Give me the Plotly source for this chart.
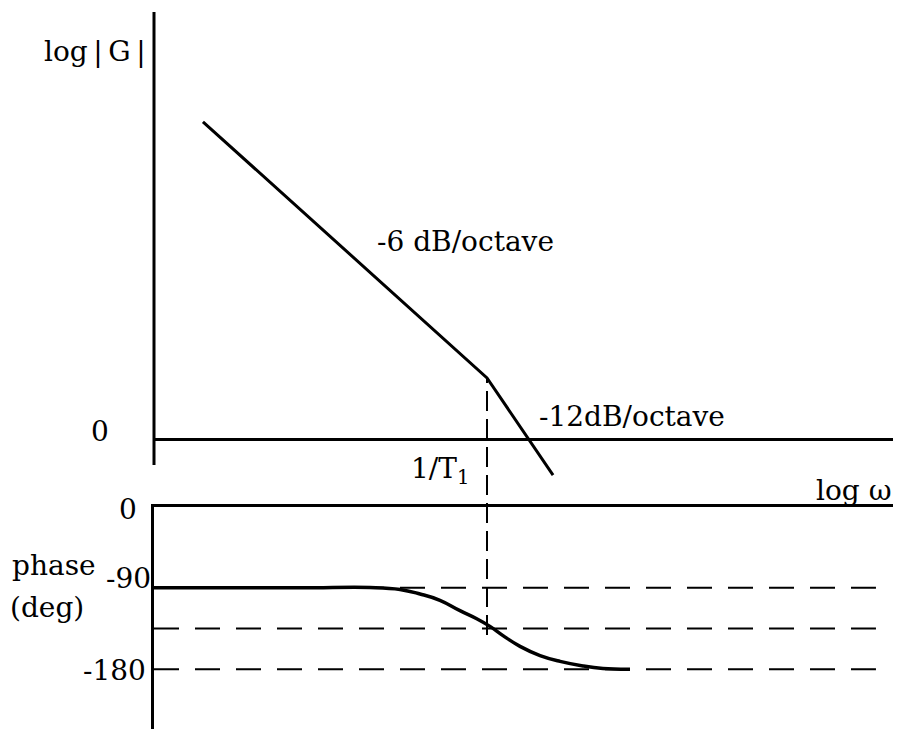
import plotly.graph_objects as go

# ---- data -----------------------------------------------------------------
# asymptotic magnitude (dB) against log10(omega*T1); corner frequency at 0
mag_log_w = [-2.185, 0.0, 0.508]
mag_db = [54.3, 10.6, -6.0]

# phase of the lag term (deg) against log10(omega*T1)
phase_log_w = [-2.562, -1.438, -0.9, -0.669, -0.515, -0.362, -0.208, -0.079,
               0.023, 0.123, 0.254, 0.408, 0.562, 0.738, 0.892, 1.1]
phase_deg = [-90, -90, -89.6, -91.7, -96.8, -103.7, -115.2, -124.1, -132.6,
             -142.8, -154.7, -164.9, -171.3, -176.4, -179.2, -180]

phase_guides = [-90, -135, -180]
phase_tick_vals = [0, -90, -180]
phase_tick_text = ["0", "-90", "-180"]
corner_log_w = 0.0

# ---- figure geometry --------------------------------------------------------
W, H = 899, 729
X_DOMAIN = [154 / W, 893 / W]
X_RANGE = [-2.5615, 3.1231]
GUIDE_END = 2.992

MAG_DOMAIN = [1 - 480 / H, 1 - 12 / H]
MAG_RANGE = [-6.83, 73.04]
MAG_AXIS_BOTTOM = -4.27

PH_DOMAIN = [0.0, 1 - 506.5 / H]
PH_RANGE = [-246.1, 0.0]

FONT = "DejaVu Serif"
FS = 28
INK = "black"


def mag_to_paper(v):
    f = (v - MAG_RANGE[0]) / (MAG_RANGE[1] - MAG_RANGE[0])
    return MAG_DOMAIN[0] + f * (MAG_DOMAIN[1] - MAG_DOMAIN[0])


def ph_to_paper(v):
    f = (v - PH_RANGE[0]) / (PH_RANGE[1] - PH_RANGE[0])
    return PH_DOMAIN[0] + f * (PH_DOMAIN[1] - PH_DOMAIN[0])


fig = go.Figure()

# phase guide lines
for g in phase_guides:
    fig.add_trace(go.Scatter(
        x=[X_RANGE[0], GUIDE_END], y=[g, g], xaxis="x2", yaxis="y2",
        mode="lines", line=dict(color=INK, width=2, dash="25px,16px"),
        hoverinfo="skip", showlegend=False))

# magnitude asymptote
fig.add_trace(go.Scatter(
    x=mag_log_w, y=mag_db, mode="lines",
    line=dict(color=INK, width=3), showlegend=False))

# phase curve
fig.add_trace(go.Scatter(
    x=phase_log_w, y=phase_deg, xaxis="x2", yaxis="y2", mode="lines",
    line=dict(color=INK, width=3.5, shape="spline", smoothing=1.2),
    showlegend=False))

shapes = [
    # vertical magnitude axis
    dict(type="line", xref="paper", yref="paper",
         x0=X_DOMAIN[0], x1=X_DOMAIN[0],
         y0=mag_to_paper(MAG_AXIS_BOTTOM), y1=MAG_DOMAIN[1],
         line=dict(color=INK, width=3)),
    # corner-frequency marker through both panels
    dict(type="line", xref="x", yref="paper",
         x0=corner_log_w, x1=corner_log_w,
         y0=ph_to_paper(-142), y1=mag_to_paper(mag_db[1]),
         line=dict(color=INK, width=2, dash="20px,8px")),
]


def ann(text, x, y, xref="paper", yref="paper", xanchor="center",
        yanchor="middle", yshift=0):
    return dict(text=text, x=x, y=y, xref=xref, yref=yref, showarrow=False,
                xanchor=xanchor, yanchor=yanchor, yshift=yshift,
                font=dict(family=FONT, size=FS, color=INK))


annotations = [
    ann("log\u2009|\u2009G\u2009|", 95 / W, 1 - 52 / H),
    ann("-6 dB/octave", -0.169, 1 - 242 / H, xref="x"),
    ann("-12dB/octave", 1.115, 1 - 417 / H, xref="x"),
    ann("0", 100 / W, 0, yref="y", yshift=8),
    ann("1/T<sub>1</sub>", -0.36, 1 - 470 / H, xref="x"),
    ann("log ω", 893 / W, 1 - 490 / H, xanchor="right"),
    ann("phase", 54 / W, 1 - 565 / H),
    ann("(deg)", 47 / W, 1 - 607 / H),
]
for v, t, xr, ys in zip(phase_tick_vals, phase_tick_text,
                        [139, 153, 148], [-3, 9, -1]):
    annotations.append(ann(t, xr / W, v, yref="y2", xanchor="right",
                           yshift=ys))

fig.update_layout(
    width=W, height=H,
    margin=dict(l=0, r=0, t=0, b=0),
    paper_bgcolor="white", plot_bgcolor="white",
    showlegend=False,
    xaxis=dict(domain=X_DOMAIN, range=X_RANGE, visible=False,
               anchor="y"),
    yaxis=dict(domain=MAG_DOMAIN, range=MAG_RANGE, showgrid=False,
               showticklabels=False, ticks="", showline=False,
               zeroline=True, zerolinecolor=INK, zerolinewidth=3,
               anchor="x"),
    xaxis2=dict(domain=X_DOMAIN, range=X_RANGE, matches="x", anchor="y2",
                side="top", showline=True, linecolor=INK, linewidth=3,
                showgrid=False, zeroline=False, showticklabels=False,
                ticks=""),
    yaxis2=dict(domain=PH_DOMAIN, range=PH_RANGE, anchor="x2",
                showline=True, linecolor=INK, linewidth=3, showgrid=False,
                zeroline=False, showticklabels=False, ticks=""),
    shapes=shapes,
    annotations=annotations,
)

fig.write_html("out.html")
